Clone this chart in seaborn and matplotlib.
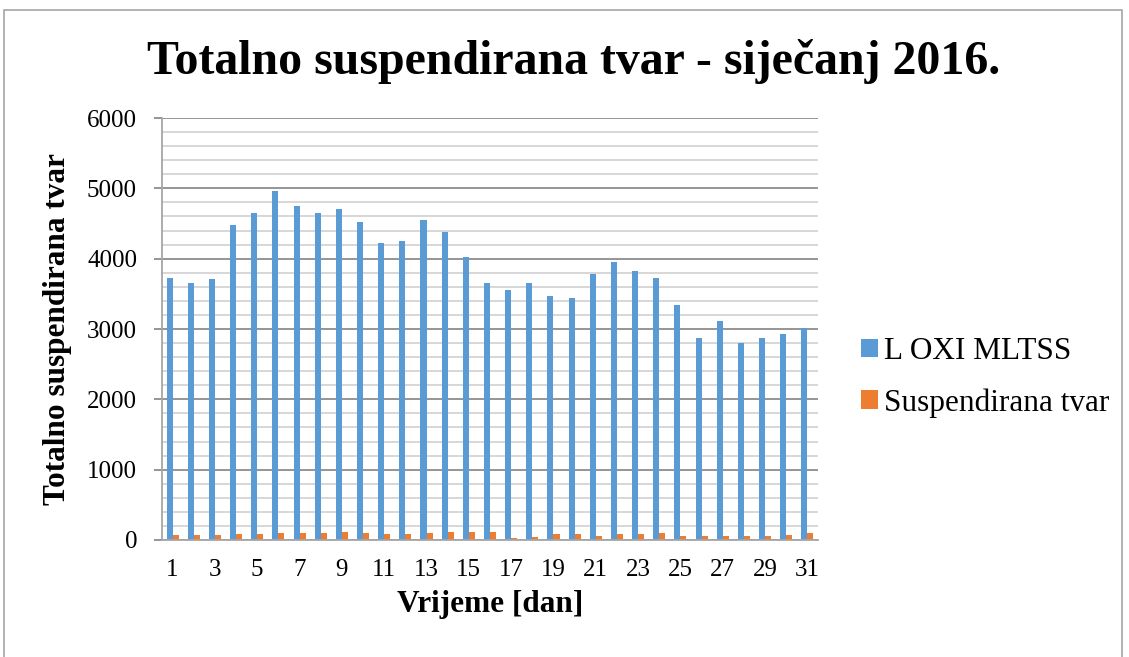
import numpy as np
import pandas as pd
import matplotlib
matplotlib.use("Agg")
import matplotlib.pyplot as plt
import matplotlib.patches as mpatches
from matplotlib.ticker import MultipleLocator
import seaborn as sns

# Podaci ocitani s grafa (sijecanj 2016.)
dani = list(range(1, 32))
l_oxi_mltss = [3720, 3655, 3705, 4475, 4650, 4965, 4750, 4650, 4705, 4525,
               4225, 4245, 4545, 4385, 4020, 3650, 3550, 3655, 3465, 3435,
               3775, 3955, 3825, 3720, 3345, 2875, 3120, 2800, 2865, 2925, 3020]
suspendirana_tvar = [66, 66, 66, 81, 81, 104, 104, 104, 119, 95,
                     81, 81, 104, 119, 119, 109, 33, 38, 90, 81,
                     62, 81, 90, 100, 62, 52, 62, 52, 62, 66, 100]
serije = ["L OXI MLTSS", "Suspendirana tvar"]
boje = ["#5B9BD5", "#ED7D31"]

df = pd.DataFrame({
    "dan": [str(d) for d in dani] * 2,
    "vrijednost": l_oxi_mltss + suspendirana_tvar,
    "serija": [serije[0]] * len(dani) + [serije[1]] * len(dani),
})

sns.set_theme(style="white")
plt.rcParams["font.family"] = ["Liberation Serif", "DejaVu Serif"]
plt.rcParams["text.color"] = "black"
plt.rcParams["axes.labelcolor"] = "black"

fig = plt.figure(figsize=(11.29, 6.57), dpi=100)
ax = fig.add_axes([162 / 1129, 117 / 657, 656 / 1129, 422 / 657])

sns.barplot(data=df, x="dan", y="vrijednost", hue="serija", palette=boje,
            width=0.57, ax=ax, saturation=1, linewidth=0, legend=True)

ax.set_ylim(0, 6000)
ax.set_xlim(-0.5, len(dani) - 0.5)
ax.yaxis.set_major_locator(MultipleLocator(1000))
ax.yaxis.set_minor_locator(MultipleLocator(200))
ax.grid(axis="y", which="major", color="#8c8c8c", linewidth=1.3)
ax.grid(axis="y", which="minor", color="#d4d4d4", linewidth=1.3)
ax.set_axisbelow(True)

# samo neparni dani na x osi
ax.set_xticks(range(len(dani)))
ax.set_xticklabels([str(d) if d % 2 == 1 else "" for d in dani])
ax.tick_params(axis="x", length=0, labelsize=18, pad=14, labelcolor="black")
ax.tick_params(axis="y", which="major", left=True, length=6, width=1.3,
               color="#8c8c8c", labelsize=18, pad=12, labelcolor="black")
ax.tick_params(axis="y", which="minor", left=False)

for s in ["top", "right"]:
    ax.spines[s].set_visible(False)
ax.spines["left"].set_color("#a6a6a6")
ax.spines["bottom"].set_color("#a6a6a6")
ax.spines["left"].set_linewidth(1.3)
ax.spines["bottom"].set_linewidth(1.3)

ax.set_xlabel("Vrijeme [dan]", fontsize=22.5, fontweight="bold")
ax.set_ylabel("Totalno suspendirana tvar", fontsize=22.5, fontweight="bold")
ax.xaxis.set_label_coords(0.5, -0.118)
ax.yaxis.set_label_coords(-0.137, 0.5)

fig.suptitle("Totalno suspendirana tvar - siječanj 2016.", x=0.508, y=0.94,
             fontsize=34.5, fontweight="bold")

leg = ax.legend(loc="center left", bbox_to_anchor=(861 / 1129, 1 - 377.5 / 657),
                bbox_transform=fig.transFigure, frameon=False, borderpad=0,
                borderaxespad=0, fontsize=22.5, handlelength=0.53, handleheight=0.53,
                handletextpad=0.22, labelspacing=0.7)

# okvir grafikona
fig.patches.append(mpatches.Rectangle((4 / 1129, -0.01), 1118 / 1129, 1 - 10 / 657 + 0.01,
                                      transform=fig.transFigure, fill=False,
                                      edgecolor="#a6a6a6", linewidth=1.2))

fig.savefig("out.png", dpi=100)
